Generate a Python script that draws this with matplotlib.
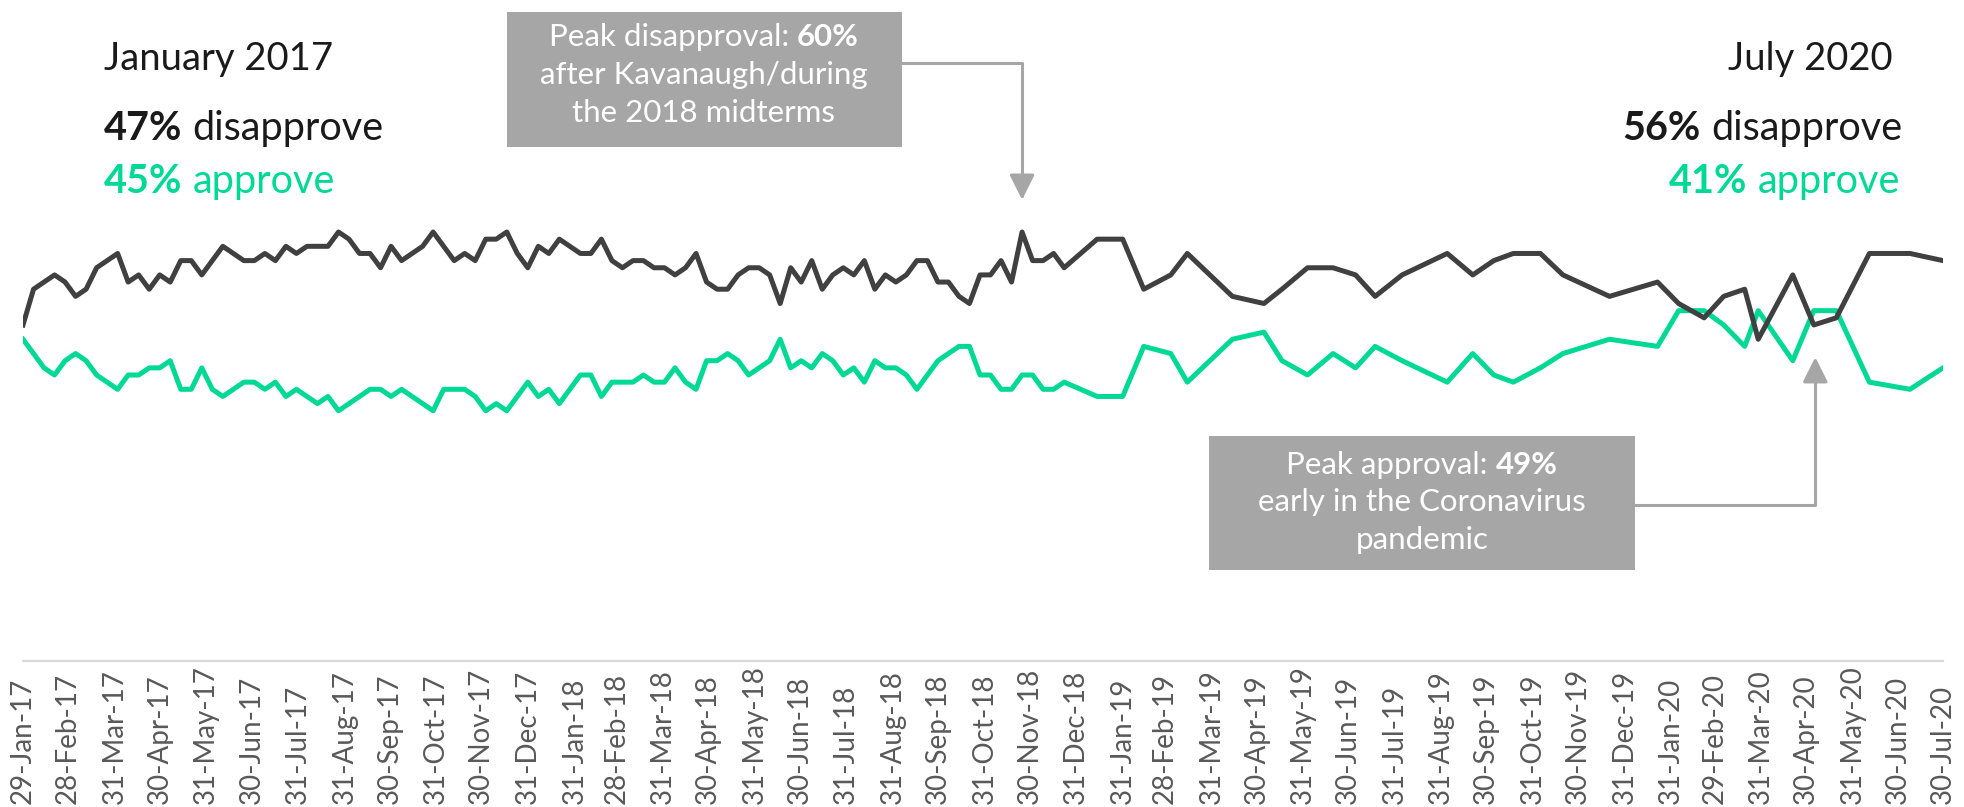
import matplotlib
matplotlib.use("Agg")
import matplotlib.pyplot as plt
import pandas as pd
from matplotlib.patches import Rectangle

plt.rcParams["font.family"] = ["Lato", "DejaVu Sans"]

# ---- data --------------------------------------------------------------
poll_dates = [
    "2017-01-29",
    "2017-02-05", "2017-02-12", "2017-02-19", "2017-02-26",
    "2017-03-05", "2017-03-12", "2017-03-19", "2017-03-26",
    "2017-04-02", "2017-04-09", "2017-04-16", "2017-04-23", "2017-04-30",
    "2017-05-07", "2017-05-14", "2017-05-21", "2017-05-28",
    "2017-06-04", "2017-06-11", "2017-06-18", "2017-06-25",
    "2017-07-02", "2017-07-09", "2017-07-16", "2017-07-23", "2017-07-30",
    "2017-08-06", "2017-08-13", "2017-08-20", "2017-08-27",
    "2017-09-03", "2017-09-10", "2017-09-17", "2017-09-24",
    "2017-10-01", "2017-10-08", "2017-10-15", "2017-10-22", "2017-10-29",
    "2017-11-05", "2017-11-12", "2017-11-19", "2017-11-26",
    "2017-12-03", "2017-12-10", "2017-12-17", "2017-12-24", "2017-12-31",
    "2018-01-07", "2018-01-14", "2018-01-21", "2018-01-28",
    "2018-02-04", "2018-02-11", "2018-02-18", "2018-02-25",
    "2018-03-04", "2018-03-11", "2018-03-18", "2018-03-25",
    "2018-04-01", "2018-04-08", "2018-04-15", "2018-04-22", "2018-04-29",
    "2018-05-06", "2018-05-13", "2018-05-20", "2018-05-27",
    "2018-06-03", "2018-06-10", "2018-06-17", "2018-06-24",
    "2018-07-01", "2018-07-08", "2018-07-15", "2018-07-22", "2018-07-29",
    "2018-08-05", "2018-08-12", "2018-08-19", "2018-08-26",
    "2018-09-02", "2018-09-09", "2018-09-16", "2018-09-23", "2018-09-30",
    "2018-10-07", "2018-10-14", "2018-10-21", "2018-10-28",
    "2018-11-04", "2018-11-11", "2018-11-18", "2018-11-25",
    "2018-12-02", "2018-12-09", "2018-12-16", "2018-12-23",
    "2019-01-14", "2019-01-31", "2019-02-14", "2019-03-04", "2019-03-15",
    "2019-04-14", "2019-05-05", "2019-05-17", "2019-06-03", "2019-06-20",
    "2019-07-05", "2019-07-18", "2019-08-05", "2019-09-04", "2019-09-21",
    "2019-10-05", "2019-10-18", "2019-11-05", "2019-11-20", "2019-12-21",
    "2020-01-22", "2020-02-05", "2020-02-22", "2020-03-06", "2020-03-20",
    "2020-03-29", "2020-04-21", "2020-05-05", "2020-05-20", "2020-06-11",
    "2020-07-08", "2020-07-30",
]

disapprove = [
    47, 52, 53, 54, 53, 51, 52, 55, 56, 57,
    53, 54, 52, 54, 53, 56, 56, 54, 56, 58,
    57, 56, 56, 57, 56, 58, 57, 58, 58, 58,
    60, 59, 57, 57, 55, 58, 56, 57, 58, 60,
    58, 56, 57, 56, 59, 59, 60, 57, 55, 58,
    57, 59, 58, 57, 57, 59, 56, 55, 56, 56,
    55, 55, 54, 55, 57, 53, 52, 52, 54, 55,
    55, 54, 50, 55, 53, 56, 52, 54, 55, 54,
    56, 52, 54, 53, 54, 56, 56, 53, 53, 51,
    50, 54, 54, 56, 53, 60, 56, 56, 57, 55,
    59, 59, 52, 54, 57, 51, 50, 52, 55, 55,
    54, 51, 54, 57, 54, 56, 57, 57, 54, 51,
    53, 50, 48, 51, 52, 45, 54, 47, 48, 57,
    57, 56,
]

approve = [
    45, 43, 41, 40, 42, 43, 42, 40, 39, 38,
    40, 40, 41, 41, 42, 38, 38, 41, 38, 37,
    38, 39, 39, 38, 39, 37, 38, 37, 36, 37,
    35, 36, 37, 38, 38, 37, 38, 37, 36, 35,
    38, 38, 38, 37, 35, 36, 35, 37, 39, 37,
    38, 36, 38, 40, 40, 37, 39, 39, 39, 40,
    39, 39, 41, 39, 38, 42, 42, 43, 42, 40,
    41, 42, 45, 41, 42, 41, 43, 42, 40, 41,
    39, 42, 41, 41, 40, 38, 40, 42, 43, 44,
    44, 40, 40, 38, 38, 40, 40, 38, 38, 39,
    37, 37, 44, 43, 39, 45, 46, 42, 40, 43,
    41, 44, 42, 39, 43, 40, 39, 41, 43, 45,
    44, 49, 49, 47, 44, 49, 42, 49, 49, 39,
    38, 41,
]

tick_labels = [
    "29-Jan-17", "28-Feb-17", "31-Mar-17", "30-Apr-17", "31-May-17", "30-Jun-17",
    "31-Jul-17", "31-Aug-17", "30-Sep-17", "31-Oct-17", "30-Nov-17", "31-Dec-17",
    "31-Jan-18", "28-Feb-18", "31-Mar-18", "30-Apr-18", "31-May-18", "30-Jun-18",
    "31-Jul-18", "31-Aug-18", "30-Sep-18", "31-Oct-18", "30-Nov-18", "31-Dec-18",
    "31-Jan-19", "28-Feb-19", "31-Mar-19", "30-Apr-19", "31-May-19", "30-Jun-19",
    "31-Jul-19", "31-Aug-19", "30-Sep-19", "31-Oct-19", "30-Nov-19", "31-Dec-19",
    "31-Jan-20", "29-Feb-20", "31-Mar-20", "30-Apr-20", "31-May-20", "30-Jun-20",
    "30-Jul-20",
]

peak_disapproval_date = "2018-11-25"
peak_approval_date = "2020-05-06"

# ---- style ---------------------------------------------------------------
DARK = "#404040"
GREEN = "#00d994"
BOX = "#a6a6a6"
AXIS = "#d9d9d9"
TICK = "#595959"
INK = "#1a1a1a"

W, H = 1965, 807
dates = pd.to_datetime(poll_dates)
ticks = pd.to_datetime(tick_labels, format="%d-%b-%y")

fig = plt.figure(figsize=(W / 100, H / 100), dpi=100)
ax = fig.add_axes([23 / W, 146 / H, 1920 / W, 661 / H])

ax.plot(dates, approve, color=GREEN, lw=3.6, solid_joinstyle="round")
ax.plot(dates, disapprove, color=DARK, lw=3.6, solid_joinstyle="round")

ax.set_xlim(ticks[0], ticks[-1])
ax.set_ylim(0, 92.45)
ax.set_xticks(ticks)
ax.set_xticklabels(tick_labels, rotation=90, fontsize=20, color=TICK)
# labels start at a common line near the bottom edge (pad in points: 143 px)
ax.tick_params(axis="x", length=0, pad=143 * 0.72)
for lab in ax.get_xticklabels():
    lab.set_va("bottom")
ax.set_yticks([])
for side in ["top", "left", "right"]:
    ax.spines[side].set_visible(False)
ax.spines["bottom"].set_color(AXIS)
ax.spines["bottom"].set_linewidth(1.6)

renderer = fig.canvas.get_renderer()


def _width(s, size, weight="normal"):
    t = fig.text(0, 0, s, fontsize=size, fontweight=weight)
    w = t.get_window_extent(renderer).width
    t.remove()
    return w


def text_runs(x_px, base_px, runs, size, ha="left"):
    """Put text pieces side by side on one baseline (pixel coords from top-left)."""
    gap = _width("a a", size) - _width("aa", size)
    widths = [_width(s, size, w) for s, w, _ in runs]
    total = sum(widths) + gap * (len(runs) - 1)
    if ha == "left":
        start = x_px
    elif ha == "right":
        start = x_px - total
    else:
        start = x_px - total / 2
    for (s, weight, color), w in zip(runs, widths):
        fig.text(start / W, 1 - base_px / H, s, fontsize=size, fontweight=weight,
                 color=color, va="baseline", ha="left")
        start += w + gap


HEAD = 27.5
SUB = 28.5
text_runs(104, 70, [("January 2017", "normal", INK)], HEAD)
text_runs(104, 140, [("47%", "bold", INK), ("disapprove", "normal", INK)], SUB)
text_runs(104, 193, [("45%", "bold", GREEN), ("approve", "normal", GREEN)], SUB)
text_runs(1893, 70, [("July 2020", "normal", INK)], HEAD, ha="right")
text_runs(1902, 140, [("56%", "bold", INK), ("disapprove", "normal", INK)], SUB, ha="right")
text_runs(1900, 193, [("41%", "bold", GREEN), ("approve", "normal", GREEN)], SUB, ha="right")

# ---- callout boxes -------------------------------------------------------
BOXTXT = 22.5
fig.add_artist(Rectangle((507 / W, 1 - 147 / H), 395 / W, 135 / H,
                         transform=fig.transFigure, facecolor=BOX, edgecolor="none"))
text_runs(704, 46, [("Peak disapproval:", "normal", "white"), ("60%", "bold", "white")], BOXTXT, ha="center")
text_runs(704, 84, [("after Kavanaugh/during", "normal", "white")], BOXTXT, ha="center")
text_runs(704, 122, [("the 2018 midterms", "normal", "white")], BOXTXT, ha="center")

fig.add_artist(Rectangle((1209 / W, 1 - 570 / H), 426 / W, 134 / H,
                         transform=fig.transFigure, facecolor=BOX, edgecolor="none"))
text_runs(1422, 474, [("Peak approval:", "normal", "white"), ("49%", "bold", "white")], BOXTXT, ha="center")
text_runs(1422, 511, [("early in the Coronavirus", "normal", "white")], BOXTXT, ha="center")
text_runs(1422, 549, [("pandemic", "normal", "white")], BOXTXT, ha="center")

arrow = dict(arrowstyle="-|>,head_length=0.7,head_width=0.35", color=BOX, lw=2.2,
             shrinkA=0, shrinkB=0, mutation_scale=22)
ax.annotate("", xy=(pd.Timestamp(peak_disapproval_date), 64.5), xycoords="data",
            xytext=(902 / W, 1 - 63 / H), textcoords="figure fraction",
            arrowprops=dict(arrow, connectionstyle="angle,angleA=0,angleB=90,rad=0"))
ax.annotate("", xy=(pd.Timestamp(peak_approval_date), 42.5), xycoords="data",
            xytext=(1635 / W, 1 - 505 / H), textcoords="figure fraction",
            arrowprops=dict(arrow, connectionstyle="angle,angleA=0,angleB=90,rad=0"))

fig.savefig("out.png", dpi=100)
